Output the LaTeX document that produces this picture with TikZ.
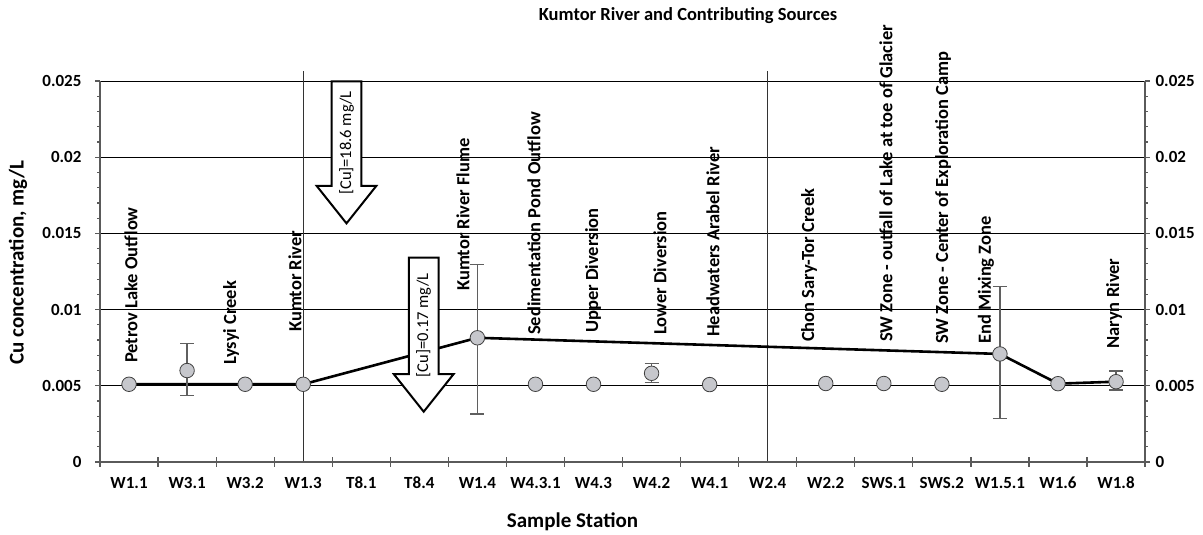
\documentclass[tikz,border=0pt]{standalone}
\usepackage{fontspec}
\setmainfont{Carlito}
\usetikzlibrary{shapes.arrows}

\definecolor{markgray}{RGB}{198,199,204}
\definecolor{axisgray}{RGB}{90,90,90}
\definecolor{errgray}{RGB}{95,95,95}

\begin{document}
\begin{tikzpicture}[
    x=1pt, y=1pt,
    every node/.style={font=\bfseries\fontsize{17}{17}\selectfont},
    grid/.style={line width=0.9pt, black},
    axisline/.style={line width=1.8pt, axisgray},
    series/.style={line width=2.6pt, black, line join=round},
    marker/.style={circle, fill=markgray, draw=black!75, line width=0.8pt, minimum size=14.5pt, inner sep=0pt},
    errbar/.style={line width=1.2pt, errgray},
    station/.style={rotate=90, anchor=west, inner sep=0pt, font=\bfseries\fontsize{18.5}{18.5}\selectfont},
    cuarrow/.style={single arrow, draw=black, line width=2pt, fill=white, rotate=90,
      shape border rotate=180, single arrow head extend=15pt, single arrow tip angle=77,
      inner ysep=6.5pt, font=\fontsize{16.5}{16.5}\selectfont}
]
\useasboundingbox (0,0) rectangle (1203,535);

% plot area: one unit = one station across, 0.001 mg/L up
\begin{scope}[shift={(100,73)}, x=58.06pt, y=15.24pt]
   % grid lines
   \foreach \v in {5,10,...,25}
      \draw[grid] (0,\v) -- (18,\v);
   \draw[line width=0.8pt, black!80] (3.5,0) -- (3.5,25.66);
   \draw[line width=0.8pt, black!80] (11.5,0) -- (11.5,25.66);

   % axes and ticks
   \draw[axisline] (0,0) -- (18,0);
   \draw[axisline] (0,0) -- (0,25);
   \draw[axisline] (18,0) -- (18,25);
   \foreach \i in {0,...,18}
      \draw[axisline, line width=1.2pt] ([yshift=-5pt]\i,0) -- ([yshift=5pt]\i,0);
   \foreach \v in {0,...,25} {
      \draw[axisline, line width=1.2pt] ([xshift=-3pt]0,\v) -- (0,\v);
      \draw[axisline, line width=1.2pt] (18,\v) -- ([xshift=3pt]18,\v);
   }
   \foreach \v in {0,5,...,25} {
      \draw[axisline, line width=1.2pt] ([xshift=-5pt]0,\v) -- (0,\v);
      \draw[axisline, line width=1.2pt] (18,\v) -- ([xshift=5pt]18,\v);
   }

   % tick labels
   \foreach \v/\t in {0/0, 5/0.005, 10/0.01, 15/0.015, 20/0.02, 25/0.025} {
      \node[anchor=east] (yl\v) at ([xshift=-15pt]0,\v) {\t};
      \node[anchor=west] (yr\v) at ([xshift=7pt]18,\v) {\t};
   }
   \foreach \s [count=\i from 0] in {W1.1, W3.1, W3.2, W1.3, T8.1, T8.4, W1.4, W4.3.1, W4.3,
         W4.2, W4.1, W2.4, W2.2, SWS.1, SWS.2, W1.5.1, W1.6, W1.8}
      \node (xl\i) at ([yshift=-21pt]\i+0.5,0) {\s};

   % data points
   \foreach \i/\v in {0/5.1, 1/6.0, 2/5.1, 3/5.1, 6/8.15, 7/5.1, 8/5.1, 9/5.82, 10/5.08,
         12/5.15, 13/5.15, 14/5.1, 15/7.09, 16/5.14, 17/5.27}
      \coordinate (p\i) at (\i+0.5,\v);

   % main stem of the river
   \draw[series] (p0) -- (p2) -- (p3) -- (p6) -- (p15) -- (p16) -- (p17);
\end{scope}

% tailings inflow
\node[cuarrow, anchor=tip, minimum height=142pt] (cuhigh) at (346.5,310) {[Cu]=18.6 mg/L};
\node[cuarrow, anchor=tip, minimum height=154pt] (culow) at (423.7,121.7) {[Cu]=0.17 mg/L};

\begin{scope}[shift={(100,73)}, x=58.06pt, y=15.24pt]
   % error bars
   \foreach \i/\lo/\hi in {1/4.35/7.75, 6/3.15/12.95, 9/5.2/6.48, 15/2.87/11.5, 17/4.72/5.97} {
      \draw[errbar] (\i+0.5,\lo) -- (\i+0.5,\hi);
      \draw[errbar] ([xshift=-7pt]\i+0.5,\lo) -- ([xshift=7pt]\i+0.5,\lo);
      \draw[errbar] ([xshift=-7pt]\i+0.5,\hi) -- ([xshift=7pt]\i+0.5,\hi);
   }
   \foreach \i in {0,1,2,3,6,7,8,9,10,12,13,14,15,16,17}
      \node[marker] (m\i) at (p\i) {};
\end{scope}

% station names
\node[station] (sPetrov) at (131,172) {Petrov Lake Outflow};
\node[station] (sLysyi) at (231,170) {Lysyi Creek};
\node[station] (sKumtor) at (295,203) {Kumtor River};
\node[station] (sFlume) at (463,244) {Kumtor River Flume};
\node[station] (sPond) at (534,200) {Sedimentation Pond Outflow};
\node[station] (sUpper) at (593,202) {Upper Diversion};
\node[station] (sLower) at (660,200) {Lower Diversion};
\node[station] (sArabel) at (713,198) {Headwaters Arabel River};
\node[station] (sChon) at (809,193) {Chon Sary-Tor Creek};
\node[station] (sGlacier) at (886,193) {SW Zone - outfall of Lake at toe of Glacier};
\node[station] (sCamp) at (943,191) {SW Zone - Center of Exploration Camp};
\node[station] (sMixing) at (986,191) {End Mixing Zone};
\node[station] (sNaryn) at (1114,186) {Naryn River};

% titles
\node (title) at (688,519) {\fontsize{18.5}{18.5}\selectfont Kumtor River and Contributing Sources};
\node[rotate=90] (ytitle) at (18,272.5) {\fontsize{21}{21}\selectfont Cu concentration, mg/L};
\node (xtitle) at (572.5,13.3) {\fontsize{21}{21}\selectfont Sample Station};
\end{tikzpicture}
\end{document}
